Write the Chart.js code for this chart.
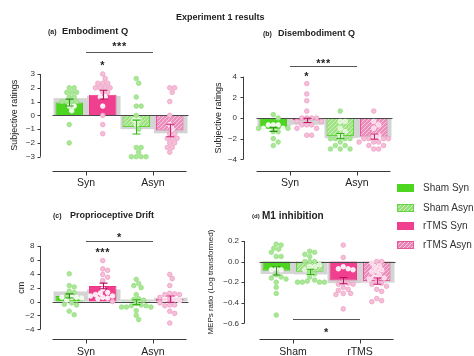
<!DOCTYPE html>
<html>
<head>
<meta charset="utf-8">
<script src="https://cdn.jsdelivr.net/npm/chart.js@4.4.1/dist/chart.umd.min.js"></script>
<style>
  html, body { margin:0; padding:0; background:#fff; }
  body { position:relative; width:474px; height:356px; overflow:hidden; font-family:"Liberation Sans", Arial, sans-serif; color:#1e1e1e; }
  canvas { position:absolute; left:0; top:0; }
  .t { position:absolute; white-space:nowrap; line-height:1; }
  .b { font-weight:bold; }
  .sw { position:absolute; left:397px; width:17px; height:8px; }
  .lt { position:absolute; left:423px; font-size:10px; line-height:1; color:#333; white-space:nowrap; }
</style>
</head>
<body>
<canvas id="ca" width="474" height="356"></canvas>
<canvas id="cb" width="474" height="356"></canvas>
<canvas id="cc" width="474" height="356"></canvas>
<canvas id="cd" width="474" height="356"></canvas>
<canvas id="pa" width="474" height="356"></canvas>
<canvas id="pb" width="474" height="356"></canvas>
<canvas id="pc" width="474" height="356"></canvas>
<canvas id="pd" width="474" height="356"></canvas>

<div class="t b" style="left:176px;top:12.6px;font-size:9px">Experiment 1 results</div>
<div class="t b" style="left:48px;top:27.6px;font-size:7px">(a)</div>
<div class="t b" style="left:62px;top:26.5px;font-size:9.3px">Embodiment Q</div>
<div class="t b" style="left:263px;top:29.6px;font-size:7px">(b)</div>
<div class="t b" style="left:278px;top:28.6px;font-size:9px">Disembodiment Q</div>
<div class="t b" style="left:53px;top:211.6px;font-size:7px">(c)</div>
<div class="t b" style="left:70px;top:210.6px;font-size:9px">Proprioceptive Drift</div>
<div class="t b" style="left:252px;top:213.1px;font-size:6px">(d)</div>
<div class="t b" style="left:262px;top:211.1px;font-size:10px">M1 inhibition</div>

<div class="sw" style="top:184.3px;background:#4cd620"></div>
<div class="lt" style="top:183.4px">Sham Syn</div>
<div class="sw" style="top:203.5px;background:repeating-linear-gradient(135deg,#95df77 0 1.6px,#d2f3c4 1.6px 2.8px);border:0.5px solid #62d63e;box-sizing:border-box"></div>
<div class="lt" style="top:202.6px">Sham Asyn</div>
<div class="sw" style="top:222.3px;background:#f03f8e"></div>
<div class="lt" style="top:221.4px">rTMS Syn</div>
<div class="sw" style="top:241px;background:repeating-linear-gradient(135deg,#ea84b6 0 1.6px,#f8cde2 1.6px 2.8px);border:0.5px solid #e8569b;box-sizing:border-box"></div>
<div class="lt" style="top:240.1px">rTMS Asyn</div>

<script>
// ================= DATA =================
// (a) Embodiment Q
const embCategories = ['Syn', 'Asyn'];
const embTicks = [-3, -2, -1, 0, 1, 2, 3];
const embShamMeans = [0.93, -0.85];
const embRtmsMeans = [1.5, -1.1];
const embShamSem = [0.25, 0.5];
const embRtmsSem = [0.32, 0.45];
const embShamShadow = [1.25, -1.0];
const embRtmsShadow = [1.4, -1.3];
const embShamSynPts = [2, 2, 1.67, 1.67, 1.67, 1.33, 1.33, 1, 1, 1, 1, 0.67, 0.67, 0.33, -0.67, -2];
const embShamAsynPts = [2.67, 2.33, 1.33, 0.67, 0.67, 0, -0.33, -0.33, -0.67, -1, -2.33, -2.33, -2.67, -3, -3, -3, -3];
const embRtmsSynPts = [3, 2.67, 2.33, 2.33, 2.33, 2, 2, 2, 2, 1.67, 1.67, 1.33, 1.33, 0.67, 0, -0.67, -1.33];
const embRtmsAsynPts = [2, 2, 1.67, 1, 0, -0.67, -1, -1.33, -1.33, -1.67, -1.67, -1.67, -2, -2, -2.33, -2.33, -2.67];

// (b) Disembodiment Q
const disCategories = ['Syn', 'Asyn'];
const disTicks = [-4, -2, 0, 2, 4];
const disShamMeans = [-1.1, -1.75];
const disRtmsMeans = [-0.23, -1.8];
const disShamSem = [0.2, 0.25];
const disRtmsSem = [0.2, 0.25];
const disShamShadow = [-0.8, -1.95];
const disRtmsShadow = [-0.65, -1.9];
const disShamSynPts = [0.33, 0, -0.67, -0.67, -0.67, -1, -1, -1, -1, -1.33, -1.33, -2, -2.33, -2.67];
const disShamAsynPts = [0.67, -0.33, -0.33, -1, -1.33, -1.67, -2, -2, -2, -2, -2.33, -2.67, -2.67, -3, -3, -3];
const disRtmsSynPts = [3.33, 2.33, 1.67, 0.67, 0, 0, 0, 0, -0.33, -0.33, -0.67, -0.67, -0.67, -1, -1, -1.67, -1.67];
const disRtmsAsynPts = [0.67, -0.33, -0.67, -1, -1.67, -1.67, -2, -2, -2, -2, -2.33, -2.33, -2.33, -2.67, -2.67, -3, -3];

// (c) Proprioceptive Drift
const driftCategories = ['Syn', 'Asyn'];
const driftTicks = [-4, -2, 0, 2, 4, 6, 8];
const driftShamMeans = [0.8, -0.1];
const driftRtmsMeans = [2.25, 0.35];
const driftShamSem = [0.3, 0.35];
const driftRtmsSem = [0.4, 0.45];
const driftShamShadow = [1.45, 0.3];
const driftRtmsShadow = [1.75, 0.55];
const driftShamSynPts = [4.0, 2.3, 2.1, 1.5, 1.3, 0.9, 0.6, 0.6, 0.6, 0.5, 0.2, -0.2, -0.4, -0.5, -1.4, -1.9];
const driftShamAsynPts = [3.2, 2.6, 2.3, 2.0, 1.0, 0.4, 0.3, 0.2, -0.3, -0.5, -0.6, -0.8, -0.8, -0.8, -0.6, -1.3, -2.0, -2.6];
const driftRtmsSynPts = [5.9, 4.7, 4.5, 3.9, 3.5, 3.0, 1.8, 1.3, 1.2, 1.0, 0.8, 0.8, 0.6, 0.5, 0.4, 0.0];
const driftRtmsAsynPts = [3.9, 3.3, 2.3, 1.2, 1.1, 1.0, 1.0, 0.6, 0.4, 0.3, 0.3, 0.1, -0.2, -0.5, -0.5, -0.6, -1.4, -1.7, -3.1];

// (d) M1 inhibition
const mepCategories = ['Sham', 'rTMS'];
const mepTicks = [-0.6, -0.4, -0.2, 0, 0.2];
const mepSynMeans = [-0.09, -0.185];
const mepAsynMeans = [-0.10, -0.19];
const mepSynSem = [0.04, 0.03];
const mepAsynSem = [0.025, 0.03];
const mepSynShadow = [-0.12, -0.21];
const mepAsynShadow = [-0.125, -0.205];
const mepShamSynPts = [0.17, 0.16, 0.13, 0.12, 0.09, 0.05, 0.05, -0.07, -0.08, -0.08, -0.13, -0.15, -0.16, -0.17, -0.2, -0.25, -0.31, -0.52];
const mepShamAsynPts = [0.10, 0.09, 0.07, 0.05, 0.0, 0.0, 0.0, -0.03, -0.05, -0.05, -0.08, -0.1, -0.12, -0.15, -0.18, -0.2, -0.2, -0.2, -0.2, -0.19];
const mepRtmsSynPts = [0.16, 0.04, -0.05, -0.07, -0.07, -0.08, -0.2, -0.21, -0.22, -0.22, -0.25, -0.27, -0.28, -0.31, -0.32, -0.31, -0.46];
const mepRtmsAsynPts = [0.0, 0.0, -0.01, -0.04, -0.05, -0.08, -0.09, -0.1, -0.13, -0.15, -0.16, -0.17, -0.2, -0.21, -0.22, -0.24, -0.27, -0.29, -0.36, -0.38, -0.39];

// ================= STYLE =================
const FONT = '"Liberation Sans", Arial, sans-serif';
Chart.defaults.font.family = FONT;

function hatch(bg, fg) {
  const c = document.createElement('canvas');
  c.width = 4; c.height = 4;
  const g = c.getContext('2d');
  g.fillStyle = bg; g.fillRect(0, 0, 4, 4);
  g.strokeStyle = fg; g.lineWidth = 1;
  g.beginPath();
  g.moveTo(0, 4); g.lineTo(4, 0);
  g.moveTo(-1, 1); g.lineTo(1, -1);
  g.moveTo(3, 5); g.lineTo(5, 3);
  g.stroke();
  return g.createPattern(c, 'repeat');
}

const STY = {
  gs: { fill: '#4cd620', border: '#43cc1a', err: '#2a9410', dot: '#a9e696', dotB: '#98df83', inside: '#f0fbeb', insideB: '#ffffff' },
  gh: { fill: hatch('#9ee281', '#cbf1bb'), border: '#5fd53a', err: '#35b517', dot: '#a9e696', dotB: '#98df83', inside: '#dcf5d0', insideB: '#f2fced' },
  ps: { fill: '#f03f8e', border: '#ea3584', err: '#b8105c', dot: '#f6bfd8', dotB: '#ee9fc5', inside: '#fdebf3', insideB: '#ffffff' },
  ph: { fill: hatch('#ec8dbc', '#f7c9df'), border: '#e8569b', err: '#d01f74', dot: '#f6bfd8', dotB: '#ee9fc5', inside: '#fad6e7', insideB: '#fff0f7' }
};

function swarmOffsets(vals, pxY, diam) {
  const idx = vals.map((_, i) => i).sort((a, b) => vals[b] - vals[a]);
  const placed = [], offs = new Array(vals.length).fill(0);
  const step = diam / 2;
  idx.forEach(i => {
    const yp = vals[i] * pxY;
    for (let s = 0; s < 80; s++) {
      const k = Math.ceil(s / 2) * (s % 2 ? 1 : -1);
      const cand = k * step;
      if (placed.every(q => (q.x - cand) ** 2 + (q.y - yp) ** 2 >= diam * diam * 0.92)) {
        offs[i] = cand; placed.push({ x: cand, y: yp }); break;
      }
    }
  });
  return offs;
}

function minusFmt(s) { return s.replace('-', '\u2212'); }

// ================= PANELS =================
const PANELS = [
  {
    bars: 'ca', dots: 'pa', categories: embCategories, yTicks: embTicks, yTitle: 'Subjective ratings', yTitleSize: 9,
    fmt: v => minusFmt(String(v)),
    area: { left: 52.5, right: 186.5, top: 74, bottom: 156.7 }, titleX: 15,
    yGap: 12.5, xGap: 14.3, yLabelPad: 17.5, xLabelPad: 20.5,
    series: [
      { means: embShamMeans, sem: embShamSem, shadow: embShamShadow, pts: [embShamSynPts, embShamAsynPts], styles: ['gs', 'gh'] },
      { means: embRtmsMeans, sem: embRtmsSem, shadow: embRtmsShadow, pts: [embRtmsSynPts, embRtmsAsynPts], styles: ['ps', 'ph'] }
    ],
    sig: [
      { kind: 'line', from: 0, to: 1, y: 4.6 },
      { kind: 'text', at: 0.5, y: 5.15, text: '***' },
      { kind: 'text', at: 0.25, y: 3.8, text: '*' }
    ]
  },
  {
    bars: 'cb', dots: 'pb', categories: disCategories, yTicks: disTicks, yTitle: 'Subjective ratings', yTitleSize: 9,
    fmt: v => minusFmt(String(v)),
    area: { left: 256.5, right: 390.5, top: 76.7, bottom: 159.3 }, titleX: 218.5,
    yGap: 14, xGap: 11.7, yLabelPad: 19.5, xLabelPad: 17.9,
    series: [
      { means: disShamMeans, sem: disShamSem, shadow: disShamShadow, pts: [disShamSynPts, disShamAsynPts], styles: ['gs', 'gh'] },
      { means: disRtmsMeans, sem: disRtmsSem, shadow: disRtmsShadow, pts: [disRtmsSynPts, disRtmsAsynPts], styles: ['ps', 'ph'] }
    ],
    sig: [
      { kind: 'line', from: 0, to: 1, y: 5.0 },
      { kind: 'text', at: 0.5, y: 5.55, text: '***' },
      { kind: 'text', at: 0.25, y: 4.3, text: '*' }
    ]
  },
  {
    bars: 'cc', dots: 'pc', categories: driftCategories, yTicks: driftTicks, yTitle: 'cm', yTitleSize: 9,
    fmt: v => minusFmt(String(v)),
    area: { left: 52.5, right: 186.5, top: 246, bottom: 329.3 }, titleX: 22,
    yGap: 12.5, xGap: 9.7, yLabelPad: 18, xLabelPad: 16.4,
    series: [
      { means: driftShamMeans, sem: driftShamSem, shadow: driftShamShadow, pts: [driftShamSynPts, driftShamAsynPts], styles: ['gs', 'gh'] },
      { means: driftRtmsMeans, sem: driftRtmsSem, shadow: driftRtmsShadow, pts: [driftRtmsSynPts, driftRtmsAsynPts], styles: ['ps', 'ph'] }
    ],
    sig: [
      { kind: 'line', from: 0, to: 1, y: 8.65 },
      { kind: 'text', at: 0.5, y: 9.6, text: '*' },
      { kind: 'text', at: 0.25, y: 7.45, text: '***' }
    ]
  },
  {
    bars: 'cd', dots: 'pd', categories: mepCategories, yTicks: mepTicks, yTitle: 'MEPs ratio (Log transformed)', yTitleSize: 8,
    fmt: v => minusFmt(v.toFixed(1)),
    area: { left: 259.5, right: 393.5, top: 241, bottom: 323.3 }, titleX: 211,
    yGap: 15.5, xGap: 15.7, yLabelPad: 20.5, xLabelPad: 22.4,
    series: [
      { means: mepSynMeans, sem: mepSynSem, shadow: mepSynShadow, pts: [mepShamSynPts, mepRtmsSynPts], styles: ['gs', 'ps'] },
      { means: mepAsynMeans, sem: mepAsynSem, shadow: mepAsynShadow, pts: [mepShamAsynPts, mepRtmsAsynPts], styles: ['gh', 'ph'] }
    ],
    sig: [
      { kind: 'line', from: 0, to: 1, y: -0.554 },
      { kind: 'text', at: 0.5, y: -0.66, text: '*' }
    ]
  }
];

const BAR_PCT = 0.82;
const DOT_R = 2.3;
const W = 474, H = 356;

function groupCenter(si, ci) { return ci + (si === 0 ? -0.25 : 0.25); }

function buildPanel(p) {
  const yMin = p.yTicks[0], yMax = p.yTicks[p.yTicks.length - 1];
  const pxX = (p.area.right - p.area.left) / 2;
  const pxY = (p.area.bottom - p.area.top) / (yMax - yMin);
  const barHalf = pxX * 0.5 * BAR_PCT / 2;
  const padLeft = p.titleX - p.yTitleSize * 1.2 / 2;
  const xH = Math.min(40, H - p.area.bottom);

  // ---------- bar chart (with axes) ----------
  const barSets = p.series.map(s => ({
    data: s.means,
    backgroundColor: s.styles.map(k => STY[k].fill),
    borderColor: s.styles.map(k => STY[k].border),
    borderWidth: 1, barPercentage: BAR_PCT, categoryPercentage: 1
  }));

  const barDeco = {
    id: 'bardeco',
    beforeDatasetsDraw(chart) {
      const { ctx } = chart, y = chart.scales.y;
      ctx.save();
      ctx.fillStyle = '#d4d4d4';
      p.series.forEach((s, si) => {
        const meta = chart.getDatasetMeta(si);
        s.shadow.forEach((g, ci) => {
          const el = meta.data[ci];
          const w = el.width;
          const y0 = y.getPixelForValue(0), y1 = y.getPixelForValue(g);
          ctx.fillRect(el.x - w / 2 - 2, Math.min(y0, y1), w + 6, Math.abs(y1 - y0));
        });
      });
      ctx.restore();
    },
    afterDatasetsDraw(chart) {
      const { ctx, chartArea: a } = chart, y = chart.scales.y;
      ctx.save();
      const y0 = Math.round(y.getPixelForValue(0)) + 0.5;
      ctx.strokeStyle = '#4a4a4a'; ctx.lineWidth = 1;
      ctx.beginPath(); ctx.moveTo(a.left, y0); ctx.lineTo(a.right + 2, y0); ctx.stroke();
      ctx.restore();
    },
    afterDraw(chart) {
      const { ctx, chartArea: a } = chart, y = chart.scales.y, x = chart.scales.x;
      ctx.save();
      ctx.strokeStyle = '#3a3a3a'; ctx.lineWidth = 1;
      const ax = Math.round(a.left - p.yGap) + 0.5;
      ctx.beginPath();
      ctx.moveTo(ax, y.getPixelForValue(yMax)); ctx.lineTo(ax, y.getPixelForValue(yMin));
      p.yTicks.forEach(v => {
        const py = Math.round(y.getPixelForValue(v)) + 0.5;
        ctx.moveTo(ax - 3, py); ctx.lineTo(ax, py);
      });
      ctx.stroke();
      const ay = Math.round(a.bottom + p.xGap) + 0.5;
      ctx.beginPath();
      ctx.moveTo(a.left, ay); ctx.lineTo(a.right, ay);
      p.categories.forEach((_, i) => {
        const px = Math.round(x.getPixelForValue(i)) + 0.5;
        ctx.moveTo(px, ay); ctx.lineTo(px, ay + 4);
      });
      ctx.stroke();
      ctx.restore();
    }
  };

  new Chart(document.getElementById(p.bars), {
    type: 'bar',
    data: { labels: p.categories, datasets: barSets },
    options: {
      responsive: false, animation: false, devicePixelRatio: 1,
      layout: { padding: { left: padLeft, right: W - p.area.right, top: p.area.top, bottom: H - p.area.bottom - xH } },
      plugins: { legend: { display: false }, tooltip: { enabled: false } },
      scales: {
        x: {
          type: 'category', offset: true,
          grid: { display: false, drawTicks: false }, border: { display: false },
          ticks: { padding: p.xLabelPad, color: '#222', font: { size: 10.5 } },
          afterFit: s => { s.height = xH; }
        },
        y: {
          type: 'linear', min: yMin, max: yMax,
          grid: { display: false, drawTicks: false }, border: { display: false },
          ticks: { padding: p.yLabelPad, color: '#333', font: { size: 8 }, callback: v => p.fmt(v) },
          afterBuildTicks: s => { s.ticks = p.yTicks.map(v => ({ value: v })); },
          title: { display: true, text: p.yTitle, color: '#222', font: { size: p.yTitleSize }, padding: 0 },
          afterFit: s => { s.width = p.area.left - padLeft; }
        }
      }
    },
    plugins: [barDeco]
  });

  // ---------- dot chart (overlay, same plot area) ----------
  const dotSets = [];
  p.series.forEach((s, si) => {
    s.pts.forEach((vals, ci) => {
      const center = groupCenter(si, ci);
      const m = s.means[ci];
      const offs = swarmOffsets(vals, pxY, DOT_R * 2 + 0.3);
      const st = STY[s.styles[ci]];
      const pts = vals.map((v, i) => ({
        x: center + offs[i] / pxX, y: v,
        inBar: v !== 0 && Math.sign(v) === Math.sign(m) && Math.abs(v) < Math.abs(m) && Math.abs(offs[i]) < barHalf - 1
      }));
      dotSets.push({
        data: pts, clip: false,
        pointRadius: DOT_R, pointBorderWidth: 0.8,
        pointBackgroundColor: c => (c.raw && c.raw.inBar) ? st.inside : st.dot,
        pointBorderColor: c => (c.raw && c.raw.inBar) ? st.insideB : st.dotB
      });
    });
  });

  const dotDeco = {
    id: 'dotdeco',
    afterDatasetsDraw(chart) {
      const { ctx } = chart, y = chart.scales.y, x = chart.scales.x;
      ctx.save();
      p.series.forEach((s, si) => {
        s.means.forEach((m, ci) => {
          const st = STY[s.styles[ci]];
          const yt = y.getPixelForValue(m + s.sem[ci]), yb = y.getPixelForValue(m - s.sem[ci]);
          const px = Math.round(x.getPixelForValue(groupCenter(si, ci))) + 0.5;
          ctx.strokeStyle = st.err; ctx.lineWidth = 1.1;
          ctx.beginPath();
          ctx.moveTo(px, yt); ctx.lineTo(px, yb);
          ctx.moveTo(px - 4, yt); ctx.lineTo(px + 4, yt);
          ctx.moveTo(px - 4, yb); ctx.lineTo(px + 4, yb);
          ctx.stroke();
        });
      });
      ctx.strokeStyle = '#555'; ctx.fillStyle = '#222'; ctx.lineWidth = 1;
      p.sig.forEach(s => {
        if (s.kind === 'line') {
          const py = Math.round(y.getPixelForValue(s.y)) + 0.5;
          ctx.beginPath();
          ctx.moveTo(x.getPixelForValue(s.from), py); ctx.lineTo(x.getPixelForValue(s.to), py);
          ctx.stroke();
        } else {
          ctx.font = 'bold 11px ' + FONT;
          ctx.letterSpacing = '0.6px';
          ctx.textAlign = 'center'; ctx.textBaseline = 'middle';
          ctx.fillText(s.text, x.getPixelForValue(s.at), y.getPixelForValue(s.y) + 3);
        }
      });
      ctx.restore();
    }
  };

  new Chart(document.getElementById(p.dots), {
    type: 'scatter',
    data: { datasets: dotSets },
    options: {
      responsive: false, animation: false, devicePixelRatio: 1,
      layout: { padding: { left: p.area.left, right: W - p.area.right, top: p.area.top, bottom: H - p.area.bottom } },
      plugins: { legend: { display: false }, tooltip: { enabled: false } },
      scales: {
        x: { type: 'linear', min: -0.5, max: 1.5, offset: false, display: false },
        y: { type: 'linear', min: yMin, max: yMax, display: false }
      }
    },
    plugins: [dotDeco]
  });
}

PANELS.forEach(buildPanel);
</script>
</body>
</html>
